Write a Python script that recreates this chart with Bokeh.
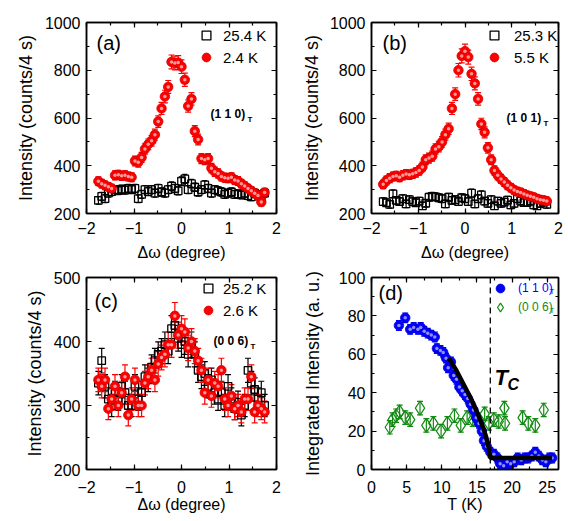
import numpy as np
from bokeh.plotting import figure
from bokeh.layouts import gridplot
from bokeh.models import (ColumnDataSource, Whisker, TeeHead, LinearAxis, SingleIntervalTicker,
                          Range1d, Label, Legend, LegendItem, CustomJSTickFormatter, Span)
from bokeh.embed import file_html
from bokeh.resources import INLINE

FONT = "Liberation Sans"

# ---------------- data ----------------
dw = [-1.75, -1.68, -1.61, -1.54, -1.47, -1.40, -1.33, -1.26, -1.19, -1.12, -1.05,
      -0.98, -0.91, -0.84, -0.77, -0.70, -0.63, -0.56, -0.49, -0.42, -0.35, -0.28,
      -0.21, -0.14, -0.07, 0.00, 0.07, 0.14, 0.21, 0.28, 0.35, 0.42, 0.49, 0.56,
      0.63, 0.70, 0.77, 0.84, 0.91, 0.98, 1.05, 1.12, 1.19, 1.26, 1.33, 1.40, 1.47,
      1.54, 1.61, 1.68, 1.75]

# (a) (1 1 0)
a_hot = [255, 272, 262, 285, 292, 300, 296, 302, 298, 305, 300, 305, 262, 280, 300, 292,
         300, 285, 305, 290, 285, 300, 315, 305, 295, 335, 345, 300, 325, 310, 290, 300,
         320, 305, 285, 300, 295, 290, 280, 285, 290, 280, 282, 278, 285, 275, 270, 285,
         278, 270, 285]
a_cold = [335, 325, 318, 312, 305, 360, 362, 358, 360, 355, 352, 420, 415, 435, 470, 490,
          505, 530, 585, 640, 690, 730, 835, 830, 832, 815, 760, 650, 680, 545, 510, 430,
          425, 430, 390, 375, 368, 355, 350, 348, 352, 340, 336, 325, 315, 305, 295, 285,
          275, 248, 288]

# (b) (1 0 1)
b_hot = [250, 245, 238, 282, 255, 250, 262, 240, 258, 250, 245, 252, 232, 243, 268, 272,
         270, 266, 262, 240, 268, 255, 258, 250, 266, 262, 250, 285, 240, 262, 278, 252,
         242, 258, 232, 252, 242, 248, 256, 236, 242, 262, 252, 246, 246, 252, 236, 232,
         242, 248, 238]
b_cold = [322, 338, 348, 355, 358, 352, 360, 365, 362, 366, 372, 380, 395, 425, 432, 440,
          470, 480, 500, 530, 555, 640, 700, 800, 860, 880, 855, 785, 745, 680, 575, 540,
          475, 425, 380, 360, 345, 332, 318, 308, 298, 292, 288, 282, 276, 272, 268, 262,
          258, 256, 252]

# (c) (0 0 6)
c_hot = [335, 370, 330, 310, 300, 320, 310, 330, 320, 300, 300, 330, 310, 320, 345, 340,
         360, 370, 380, 385, 395, 385, 420, 425, 405, 395, 400, 380, 395, 380, 355, 345,
         350, 330, 340, 320, 310, 320, 300, 330, 310, 295, 305, 285, 300, 355, 335, 325,
         310, 320, 300]
c_cold = [340, 330, 340, 295, 310, 330, 300, 320, 345, 285, 310, 340, 300, 300, 335, 345,
          355, 340, 365, 375, 380, 395, 395, 440, 410, 420, 415, 390, 400, 385, 370, 355,
          320, 340, 315, 335, 330, 355, 310, 300, 315, 295, 300, 290, 310, 310, 345, 290,
          300, 295, 290]

# (d) integrated intensity vs T
T_110 = [3.9, 4.8, 5.5, 6.0, 6.6, 7.0, 7.5, 8.0, 8.5, 9.0, 9.3, 9.8, 10.2, 10.6, 10.9,
         11.3, 11.7, 12.1, 12.5, 12.9, 13.3, 13.7, 14.1, 14.5, 14.9, 15.3, 15.7, 16.0,
         16.4, 16.9, 17.4, 17.9, 18.3, 18.8, 19.3, 19.8, 20.3, 20.8, 21.3, 21.8, 22.3,
         22.8, 23.3, 23.8, 24.3, 24.8, 25.3, 25.7]
I_110 = [75, 79, 73, 74, 73, 74, 72, 71, 70, 69, 63, 62, 61, 58, 53, 56, 49, 47, 43, 41,
         39, 37, 34, 31, 27, 24, 20, 15, 12, 9, 8, 6, 3, 2, 4, 3, 4, 6, 5, 6, 6, 7, 9, 7,
         5, 4, 6, 6]
E_110 = 2.5

T_006 = [2.6, 3.0, 3.5, 4.0, 4.8, 5.5, 6.9, 7.8, 8.8, 9.9, 10.8, 11.8, 12.7, 13.6, 14.4,
         15.1, 16.1, 16.7, 17.4, 18.1, 18.9, 19.0, 21.5, 22.3, 23.3, 24.5]
I_006 = [22, 26, 28, 30, 27, 26, 32, 23, 24, 20, 24, 28, 23, 27, 26, 26, 29, 24, 26, 25,
         32, 24, 27, 24, 23, 31]
E_006 = 3.5

T_fit = [11.0, 11.5, 12.0, 12.5, 13.0, 13.5, 14.0, 14.5, 15.0, 15.5, 16.0, 16.3, 16.5,
         16.7, 16.8, 16.9, 17.0, 25.7]
I_fit = [58, 55, 52, 48.5, 45, 41.5, 38, 34, 30, 25.5, 20.5, 17, 14, 11, 9, 6, 6, 6]
Tc = 16.9

RED, RED_EDGE, RED_HI = "#ff0000", "#d40000", "#ff9a9a"
BLUE, BLUE_EDGE, BLUE_HI = "#0000ff", "#0000c8", "#8f8fff"
GREEN = "#118a11"


def mirror_axis(ticker):
    ax = LinearAxis(ticker=ticker, formatter=CustomJSTickFormatter(code="return ''"),
                    major_label_text_font_size="0px", major_label_standoff=0,
                    axis_line_width=1.5, major_tick_in=5, major_tick_out=0,
                    minor_tick_in=3, minor_tick_out=0, major_tick_line_width=1.2,
                    minor_tick_line_width=1.2)
    return ax


def make_fig(width, height, xr, yr, borders, xint, yint, xlabel, ylabel,
             tick_stand, xlab_stand, ylab_stand):
    l, r, t, b = borders
    p = figure(width=width, height=height, x_range=Range1d(*xr), y_range=Range1d(*yr),
               output_backend="svg", toolbar_location=None, tools="",
               min_border_left=l, min_border_right=r, min_border_top=t, min_border_bottom=b)
    p.xgrid.visible = False
    p.ygrid.visible = False
    p.outline_line_color = "black"
    p.outline_line_width = 1.5
    p.xaxis.ticker = SingleIntervalTicker(interval=xint, num_minor_ticks=2)
    p.yaxis.ticker = SingleIntervalTicker(interval=yint, num_minor_ticks=2)
    for ax in (p.xaxis[0], p.yaxis[0]):
        ax.axis_line_width = 1.5
        ax.major_tick_in = 5
        ax.major_tick_out = 0
        ax.minor_tick_in = 3
        ax.minor_tick_out = 0
        ax.major_tick_line_width = 1.2
        ax.minor_tick_line_width = 1.2
        ax.major_label_text_font = FONT
        ax.major_label_text_font_size = "16px"
        ax.major_label_text_color = "black"
        ax.axis_label_text_font = FONT
        ax.axis_label_text_font_style = "normal"
        ax.axis_label_text_color = "black"
    p.xaxis.major_label_standoff = tick_stand
    p.yaxis.major_label_standoff = 6
    p.xaxis.axis_label = xlabel
    p.yaxis.axis_label = ylabel
    p.xaxis.axis_label_text_font_size = "16px"
    p.yaxis.axis_label_text_font_size = "18px"
    p.xaxis.axis_label_standoff = xlab_stand
    p.yaxis.axis_label_standoff = ylab_stand
    p.add_layout(mirror_axis(SingleIntervalTicker(interval=xint, num_minor_ticks=2)), "above")
    p.add_layout(mirror_axis(SingleIntervalTicker(interval=yint, num_minor_ticks=2)), "right")
    return p


def errbars(p, x, y, err, color, head=6, width=1.2):
    y = np.asarray(y, dtype=float)
    err = np.broadcast_to(np.asarray(err, dtype=float), y.shape)
    src = ColumnDataSource(dict(x=list(x), lo=list(y - err), hi=list(y + err)))
    w = Whisker(base="x", upper="hi", lower="lo", source=src, dimension="height",
                line_color=color, line_width=width,
                upper_head=TeeHead(size=head, line_color=color, line_width=width),
                lower_head=TeeHead(size=head, line_color=color, line_width=width))
    p.add_layout(w)


def squares(p, x, y):
    return p.scatter(x, y, marker="square", size=7.5, fill_color=None,
                     line_color="black", line_width=1.3)


def spheres(p, x, y, col, edge, hi, size=9.5):
    r1 = p.scatter(x, y, marker="circle", size=size, fill_color=col, line_color=edge,
                   line_width=0.8)
    p.scatter(x, y, marker="circle", size=3.5, fill_color=hi, line_color=None)
    return r1


def legend(p, items, loc, standoff, spacing, size="15px", color="black"):
    lg = Legend(items=items, location=loc, orientation="vertical", glyph_width=22,
                glyph_height=22, label_height=14, label_standoff=standoff, spacing=spacing,
                padding=0, margin=0, border_line_color=None, background_fill_alpha=0,
                label_text_font=FONT, label_text_font_size=size, label_text_color=color)
    p.add_layout(lg)


def label(p, x, y, text, size, style="normal", color="black"):
    p.add_layout(Label(x=x, y=y, x_units="screen", y_units="screen", text=text,
                       text_font=FONT, text_font_size=size, text_font_style=style,
                       text_color=color, text_baseline="middle", text_align="left"))


dlabel = "\u0394\u03c9 (degree)"
ilabel = "Intensity (counts/4 s)"

# ---------- (a) ----------
pa = make_fig(288, 266, (-2, 2), (200, 1000), (86, 12, 22, 53), 1, 200,
              dlabel, ilabel, 8, 7, 6)
errbars(pa, dw, a_hot, np.sqrt(a_hot), "black", head=5)
ra_h = squares(pa, dw, a_hot)
errbars(pa, dw, a_cold, np.sqrt(a_cold), RED)
ra_c = spheres(pa, dw, a_cold, RED, RED_EDGE, RED_HI)
legend(pa, [LegendItem(label="25.4 K", renderers=[ra_h]),
            LegendItem(label="2.4 K", renderers=[ra_c])], (109, 145), 6, -6)
label(pa, 10, 171, "(a)", "20px")
label(pa, 124, 100, "(1 1 0)", "12px", "bold")
label(pa, 161, 94, "T", "8px", "bold")

# ---------- (b) ----------
pb = make_fig(280, 266, (-2, 2), (200, 1000), (82, 10, 22, 53), 1, 200,
              dlabel, ilabel, 8, 7, 5)
errbars(pb, dw, b_hot, np.sqrt(b_hot), "black", head=5)
rb_h = squares(pb, dw, b_hot)
errbars(pb, dw, b_cold, np.sqrt(b_cold), RED)
rb_c = spheres(pb, dw, b_cold, RED, RED_EDGE, RED_HI)
legend(pb, [LegendItem(label="25.3 K", renderers=[rb_h]),
            LegendItem(label="5.5 K", renderers=[rb_c])], (112, 145), 9, -6)
label(pb, 11, 171, "(b)", "20px")
label(pb, 135, 96, "(1 0 1)", "12px", "bold")
label(pb, 172, 90, "T", "8px", "bold")

# ---------- (c) ----------
pc = make_fig(288, 255, (-2, 2), (200, 500), (86, 12, 11, 52), 1, 100,
              dlabel, ilabel, 11, 0, 6)
errbars(pc, dw, c_hot, np.sqrt(c_hot), "black")
rc_h = squares(pc, dw, c_hot)
errbars(pc, dw, c_cold, np.sqrt(c_cold), RED)
rc_c = spheres(pc, dw, c_cold, RED, RED_EDGE, RED_HI)
legend(pc, [LegendItem(label="25.2 K", renderers=[rc_h]),
            LegendItem(label="2.6 K", renderers=[rc_c])], (111, 148), 4, -5)
label(pc, 8, 169, "(c)", "20px")
label(pc, 127, 129, "(0 0 6)", "12px", "bold")
label(pc, 164, 123, "T", "8px", "bold")

# ---------- (d) ----------
pd_ = make_fig(280, 255, (0, 26.6), (0, 100), (83, 10, 11, 52), 5, 20,
               "T (K)", "Integrated Intensity (a. u.)", 11, 0, 13)
pd_.add_layout(Span(location=Tc, dimension="height", line_color="black", line_width=1.3,
                    line_dash="6 4"))
errbars(pd_, T_006, I_006, E_006, GREEN, head=6)
rd_g = pd_.scatter(T_006, I_006, marker="diamond", size=14,
                   fill_color=None, line_color=GREEN, line_width=1.2)
errbars(pd_, T_110, I_110, E_110, BLUE, head=6)
rd_b = spheres(pd_, T_110, I_110, BLUE, BLUE_EDGE, BLUE_HI, size=9.5)
pd_.line(T_fit, I_fit, line_color="black", line_width=4.5)
legend(pd_, [LegendItem(label="(1 1 0)", renderers=[rd_b])], (118, 170), 7, 0,
       size="12px", color=BLUE)
legend(pd_, [LegendItem(label="(0 0 6)", renderers=[rd_g])], (118, 151), 7, 0,
       size="12px", color=GREEN)
label(pd_, 178, 178, "T", "8px", "normal", BLUE)
label(pd_, 178, 159, "T", "8px", "normal", GREEN)
label(pd_, 123, 92, "T", "22px", "bold italic")
label(pd_, 136, 85, "C", "16px", "bold italic")
label(pd_, 7, 177, "(d)", "20px")

grid = gridplot([[pa, pb], [pc, pd_]], toolbar_location=None)
open("out.html", "w").write(file_html(grid, INLINE))
